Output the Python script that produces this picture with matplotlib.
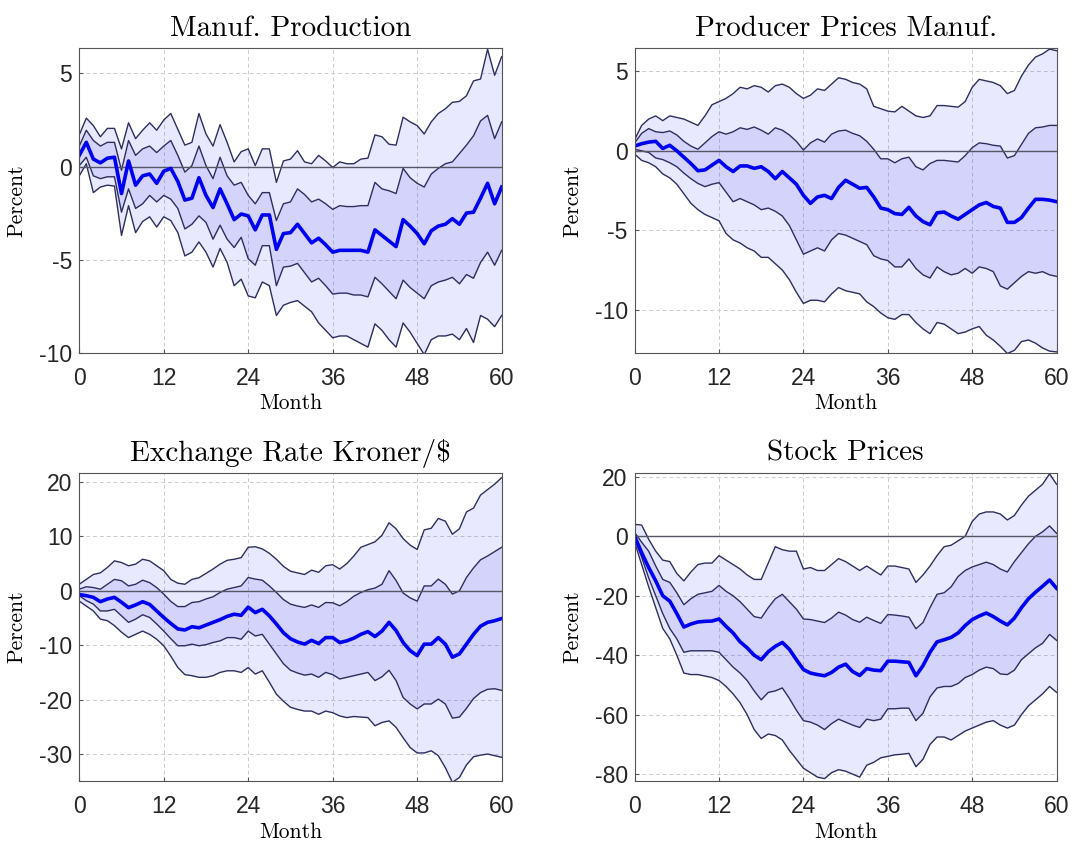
import matplotlib
matplotlib.use('Agg')
import matplotlib.pyplot as plt

plt.rcParams['font.family'] = ['Liberation Sans', 'DejaVu Sans']
plt.rcParams['axes.unicode_minus'] = False

months = list(range(61))

# Manuf. Production: median and 68% / 90% bands (percent)
prod_med = [0.6, 1.3, 0.4, 0.2, 0.45, 0.5, -1.45, 0.3, -1.0, -0.5, -0.4,
            -0.9, -0.25, -0.1, -0.8, -1.8, -1.7, -0.6, -1.55, -2.2, -1.2,
            -2.0, -2.85, -2.55, -2.65, -3.4, -2.6, -2.6, -4.45, -3.6, -3.55,
            -3.1, -3.6, -4.1, -3.85, -4.2, -4.6, -4.5, -4.5, -4.5, -4.5,
            -4.6, -3.4, -3.7, -4.0, -4.3, -2.85, -3.2, -3.6, -4.15, -3.45,
            -3.2, -3.1, -2.8, -3.1, -2.5, -2.45, -1.7, -0.9, -2.0, -1.1]
prod_hi90 = [1.7, 2.6, 2.2, 1.6, 2.05, 2.05, 0.95, 2.35, 1.5, 1.95, 2.35,
             1.95, 2.5, 2.85, 2.0, 1.15, 1.3, 2.85, 1.75, 1.1, 2.25,
             1.3, 0.25, 0.8, 0.95, 0.05, 0.95, 0.95, -0.85, 0.3, 0.4,
             0.85, 0.25, 0.15, 0.6, 0.3, -0.05, 0.25, 0.15, 0.15, 0.4,
             0.45, 1.7, 1.6, 1.2, 1.15, 2.65, 2.4, 2.2, 1.75, 2.4,
             2.85, 3.1, 3.45, 3.5, 3.8, 4.6, 4.7, 6.3, 4.9, 5.9]
prod_hi68 = [1.1, 1.95, 1.4, 1.1, 1.3, 1.3, -0.2, 1.4, 0.6, 0.95, 1.1,
             0.75, 1.1, 1.4, 0.6, -0.3, 0.05, 1.1, 0.05, -0.65, 0.5,
             -0.5, -1.0, -0.85, -1.55, -2.0, -1.4, -1.4, -2.9, -2.0, -1.9,
             -1.2, -1.5, -1.9, -1.75, -2.0, -2.3, -2.1, -2.15, -2.15, -2.1,
             -2.1, -0.85, -1.2, -1.3, -1.45, -0.1, -0.6, -0.9, -1.1, -0.4,
             -0.1, 0.15, 0.25, 0.7, 1.15, 1.65, 2.45, 2.75, 1.5, 2.4]
prod_lo68 = [0.05, 0.5, -0.5, -0.65, -0.55, -0.55, -2.45, -1.2, -2.25, -2.0, -1.55,
             -1.9, -1.55, -1.75, -2.25, -3.35, -3.1, -2.65, -3.0, -3.9, -3.15,
             -3.9, -4.35, -3.8, -4.95, -5.3, -4.25, -4.25, -6.4, -5.4, -5.35,
             -5.2, -5.7, -6.2, -6.0, -6.4, -6.85, -6.8, -6.8, -6.9, -6.9,
             -7.0, -5.95, -6.3, -6.7, -7.1, -6.1, -6.5, -6.8, -7.1, -6.4,
             -6.2, -6.1, -5.95, -6.3, -5.8, -6.0, -5.15, -4.6, -5.3, -4.5]
prod_lo90 = [-0.5, 0.15, -1.4, -1.1, -1.0, -1.05, -3.7, -2.1, -3.55, -2.95, -2.7,
             -3.25, -2.7, -2.9, -3.55, -4.8, -4.6, -4.05, -4.6, -5.4, -4.4,
             -5.15, -6.4, -6.05, -6.95, -7.05, -6.2, -6.4, -8.0, -7.45, -7.3,
             -7.2, -7.5, -7.8, -8.4, -8.8, -9.2, -9.1, -9.1, -9.3, -9.5,
             -9.7, -8.45, -8.8, -9.3, -9.7, -8.4, -8.9, -9.5, -10.1, -9.3,
             -9.1, -9.1, -9.0, -9.3, -8.7, -9.45, -8.0, -8.2, -8.6, -8.0]

# Producer Prices Manuf.
ppi_med = [0.3, 0.45, 0.55, 0.6, 0.15, 0.35, 0.0, -0.4, -0.8, -1.25, -1.2,
           -0.9, -0.6, -1.0, -1.3, -0.95, -0.95, -1.1, -1.0, -1.3, -1.75,
           -1.3, -1.7, -2.1, -2.8, -3.3, -2.9, -2.8, -3.0, -2.3, -1.85,
           -2.1, -2.35, -2.3, -2.9, -3.6, -3.7, -3.95, -4.0, -3.55, -4.1,
           -4.45, -4.65, -3.9, -3.85, -4.1, -4.3, -4.0, -3.7, -3.4, -3.25,
           -3.5, -3.6, -4.5, -4.5, -4.2, -3.6, -3.05, -3.05, -3.1, -3.2]
ppi_hi90 = [0.7, 1.6, 2.0, 2.2, 1.9, 2.2, 2.1, 2.0, 1.8, 1.6, 2.2,
            2.9, 3.1, 3.3, 3.6, 4.0, 3.9, 4.1, 4.0, 3.7, 4.1,
            4.2, 4.0, 3.6, 3.3, 3.5, 3.9, 3.8, 4.2, 4.6, 4.5,
            4.3, 4.2, 3.9, 2.8, 2.65, 2.5, 2.45, 2.8, 2.5, 2.2,
            2.1, 2.2, 2.85, 2.85, 2.8, 2.75, 3.1, 4.0, 4.5, 4.4,
            4.3, 4.1, 3.6, 3.8, 4.7, 5.4, 5.9, 6.1, 6.4, 6.3]
ppi_hi68 = [0.5, 1.1, 1.4, 1.2, 1.15, 1.25, 1.0, 0.6, 0.3, 0.1, 0.5,
            0.9, 1.2, 1.05, 1.2, 1.45, 1.35, 1.5, 1.3, 1.05, 1.45,
            1.3, 1.0, 0.6, 0.05, 0.5, 0.75, 0.55, 1.05, 1.25, 1.3,
            1.1, 0.95, 0.6, 0.1, -0.5, -0.5, -0.75, -0.5, -0.4, -1.0,
            -1.2, -0.8, -0.6, -0.6, -0.65, -0.7, -0.3, 0.2, 0.5, 0.45,
            0.35, 0.3, -0.45, -0.3, 0.4, 1.1, 1.45, 1.5, 1.6, 1.6]
ppi_lo68 = [0.1, 0.0, -0.1, -0.45, -0.55, -0.75, -1.0, -1.4, -1.75, -2.05, -2.25,
            -2.1, -2.0, -2.6, -3.2, -3.0, -3.2, -3.4, -3.7, -3.6, -3.8,
            -4.1, -4.7, -5.6, -6.5, -6.3, -6.1, -6.3, -5.6, -5.2, -5.3,
            -5.5, -5.7, -5.9, -6.6, -6.8, -6.9, -7.3, -7.3, -6.8, -7.4,
            -7.8, -8.0, -7.3, -7.6, -7.8, -7.7, -7.4, -7.7, -7.3, -7.4,
            -7.6, -8.5, -8.7, -8.3, -7.9, -7.6, -7.7, -7.6, -7.8, -7.9]
ppi_lo90 = [-0.2, -0.6, -0.75, -1.0, -1.45, -1.7, -2.1, -2.7, -3.3, -3.7, -4.0,
            -4.2, -4.4, -5.2, -5.6, -5.8, -6.1, -6.3, -6.7, -6.7, -7.1,
            -7.5, -8.1, -8.9, -9.6, -9.4, -9.4, -9.5, -9.0, -8.6, -8.8,
            -8.9, -9.0, -9.5, -9.8, -10.2, -10.5, -10.6, -10.3, -10.3, -10.8,
            -11.2, -11.5, -10.8, -10.9, -11.2, -11.5, -11.4, -11.2, -11.05, -11.6,
            -11.9, -12.3, -12.75, -12.55, -12.0, -11.9, -12.1, -12.4, -12.6, -12.65]

# Exchange Rate Kroner/$
fx_med = [-0.7, -0.9, -1.2, -2.0, -1.5, -1.2, -2.1, -3.1, -2.6, -2.0, -2.5,
          -3.7, -4.9, -6.0, -7.0, -7.2, -6.6, -6.8, -6.3, -5.8, -5.3,
          -4.7, -4.3, -4.5, -3.0, -4.0, -3.4, -4.6, -6.1, -7.7, -8.8,
          -9.4, -9.8, -9.1, -9.7, -8.6, -8.6, -9.5, -9.2, -8.7, -8.0,
          -7.5, -8.4, -7.4, -5.8, -7.3, -9.5, -11.0, -11.9, -9.8, -9.8,
          -8.6, -9.8, -12.2, -11.6, -9.8, -8.0, -6.5, -5.8, -5.5, -5.1]
fx_hi90 = [1.2, 2.1, 3.0, 3.3, 4.3, 5.5, 5.2, 4.6, 4.9, 5.8, 5.5,
           4.6, 3.7, 2.1, 1.4, 1.2, 2.1, 2.4, 3.2, 4.0, 4.9,
           5.6, 5.8, 6.1, 8.0, 8.1, 7.7, 6.9, 5.8, 4.5, 3.6,
           3.3, 3.0, 3.8, 3.4, 4.6, 4.8, 4.0, 5.0, 6.4, 8.0,
           8.5, 9.0, 10.2, 12.5, 11.4, 9.6, 8.4, 7.6, 11.2, 11.5,
           13.3, 12.8, 10.4, 11.4, 14.5, 15.2, 17.6, 18.6, 19.6, 20.8]
fx_hi68 = [0.3, 0.75, 0.6, 0.3, 1.2, 2.1, 1.85, 0.9, 1.2, 1.95, 1.5,
           0.6, -0.6, -1.95, -2.9, -2.9, -2.15, -2.0, -1.5, -1.1, -0.3,
           0.3, 0.6, 0.9, 2.45, 2.15, 1.95, 0.9, -0.3, -1.6, -2.45,
           -2.8, -3.05, -2.6, -3.05, -2.15, -2.2, -2.75, -2.0, -1.0, -0.3,
           0.2, 0.5, 1.2, 3.7, 1.9, -0.4, -1.3, -1.9, 0.9, 0.9,
           2.15, 1.2, -0.6, 0.0, 2.45, 4.2, 5.7, 6.4, 7.2, 8.0]
fx_lo68 = [-0.9, -1.8, -2.45, -3.7, -3.7, -3.4, -4.6, -5.8, -5.2, -4.4, -4.9,
           -6.1, -7.4, -8.8, -10.1, -10.1, -9.8, -10.1, -9.9, -9.5, -9.2,
           -8.6, -8.6, -8.9, -7.4, -8.3, -8.0, -9.8, -11.6, -13.4, -14.6,
           -15.1, -15.5, -15.3, -15.9, -15.0, -15.4, -16.2, -15.9, -15.6, -15.3,
           -15.0, -16.5, -15.8, -14.6, -16.5, -19.6, -20.8, -21.7, -20.8, -20.8,
           -19.9, -20.8, -23.4, -23.2, -21.6, -19.8, -18.7, -18.1, -18.0, -18.3]
fx_lo90 = [-1.9, -2.8, -3.7, -5.2, -5.5, -6.4, -7.6, -8.6, -8.0, -7.4, -8.0,
           -8.9, -10.1, -12.0, -14.1, -15.4, -15.6, -15.9, -15.9, -15.6, -15.0,
           -14.7, -14.7, -15.0, -14.1, -15.3, -14.7, -16.8, -19.0, -20.3, -21.4,
           -21.8, -22.1, -22.1, -22.7, -22.1, -22.4, -23.0, -23.3, -23.1, -23.2,
           -23.3, -24.8, -24.2, -23.9, -25.1, -27.0, -28.8, -29.8, -29.8, -29.4,
           -30.3, -32.5, -35.2, -34.3, -32.0, -30.5, -30.2, -30.0, -30.3, -30.6]

# Stock Prices
stk_med = [0.0, -5.5, -10.5, -15.0, -20.0, -21.8, -26.0, -30.5, -29.5, -28.8, -28.6,
           -28.5, -27.8, -30.3, -32.5, -35.5, -37.5, -40.0, -41.5, -38.8, -37.0,
           -35.7, -38.0, -41.5, -44.8, -46.0, -46.5, -46.9, -45.8, -44.0, -43.0,
           -45.5, -46.8, -44.5, -45.0, -45.2, -42.0, -42.0, -42.2, -42.4, -46.9,
           -43.5, -39.0, -35.5, -34.8, -34.0, -32.5, -30.0, -28.0, -26.8, -25.8,
           -27.0, -28.5, -29.8, -27.5, -24.0, -21.0, -18.8, -16.8, -14.7, -17.5]
stk_hi90 = [4.0, 3.8, -1.0, -5.0, -8.0, -8.5, -12.5, -15.0, -12.0, -9.5, -9.0,
            -9.0, -6.5, -8.0, -9.5, -11.0, -13.0, -14.5, -14.5, -9.0, -3.5,
            -4.5, -5.0, -5.0, -11.0, -10.5, -11.5, -11.5, -9.5, -7.5, -8.5,
            -10.0, -11.5, -10.0, -11.5, -13.0, -10.0, -10.0, -10.5, -11.0, -15.5,
            -13.0, -10.0, -6.5, -3.5, -3.0, -1.5, 0.0, 5.0, 7.5, 8.2,
            8.2, 7.5, 5.5, 7.0, 10.5, 13.5, 15.5, 17.5, 21.0, 17.5]
stk_hi68 = [1.3, -2.0, -5.0, -10.0, -14.5, -15.5, -19.0, -23.0, -21.0, -19.5, -19.0,
            -18.5, -16.5, -18.5, -20.0, -22.0, -24.5, -27.0, -27.5, -24.0, -21.0,
            -19.5, -22.0, -24.5, -27.8, -28.0, -28.5, -29.0, -27.5, -25.5, -26.5,
            -28.0, -28.9, -27.2, -28.3, -29.3, -26.3, -26.5, -26.8, -27.2, -31.1,
            -29.0, -24.0, -19.5, -19.0, -17.0, -13.5, -11.5, -10.3, -9.5, -8.7,
            -9.5, -11.0, -12.0, -8.5, -5.5, -2.5, 0.0, 1.5, 3.5, 1.0]
stk_lo68 = [-1.0, -7.0, -14.0, -20.0, -26.0, -31.0, -34.5, -39.0, -38.5, -38.5, -38.5,
            -38.5, -39.0, -41.5, -44.0, -46.0, -48.5, -52.0, -55.0, -52.5, -52.0,
            -51.0, -54.5, -58.5, -62.0, -62.5, -63.5, -65.0, -63.0, -61.5, -62.5,
            -63.5, -64.3, -61.5, -62.0, -61.5, -58.0, -58.0, -57.8, -57.8, -62.0,
            -59.5, -54.0, -51.0, -50.5, -50.5, -49.5, -47.5, -46.5, -45.0, -44.0,
            -44.5, -46.3, -46.5, -45.0, -41.5, -39.5, -37.5, -36.0, -33.0, -35.0]
stk_lo90 = [-2.0, -9.5, -17.0, -24.0, -31.0, -34.5, -40.0, -46.0, -46.5, -46.5, -47.0,
            -47.5, -48.5, -50.5, -53.0, -56.0, -60.0, -65.0, -68.0, -66.5, -67.0,
            -68.5, -72.0, -75.0, -78.0, -79.5, -81.0, -81.5, -79.5, -78.5, -79.0,
            -80.0, -81.0, -77.0, -76.0, -74.5, -74.0, -73.5, -73.3, -73.0, -77.5,
            -75.0, -70.0, -67.5, -67.5, -68.5, -67.0, -65.5, -64.5, -63.5, -62.5,
            -62.0, -63.5, -64.5, -63.5, -60.0, -57.0, -55.0, -53.0, -50.5, -52.5]

xticks = [0, 12, 24, 36, 48, 60]
serif = ['cmr10', 'DejaVu Serif']


def draw_panel(ax, title, lo90, lo68, med, hi68, hi90, ylim, yticks):
    '''One impulse response with 68% and 90% bands'''
    ax.fill_between(months, lo90, hi90, color='#2020ff', alpha=0.1, lw=0)
    ax.fill_between(months, lo68, hi68, color='#2020e0', alpha=0.1, lw=0)
    for band in (lo90, lo68, hi68, hi90):
        ax.plot(months, band, color='#2e2e5e', lw=1.0)
    ax.axhline(0, color='#555566', lw=1.0)
    ax.plot(months, med, color='#0000f0', lw=2.6)

    ax.set_xlim(0, 60)
    ax.set_ylim(*ylim)
    ax.set_xticks(xticks)
    ax.set_yticks(yticks)
    ax.set_axisbelow(True)
    ax.grid(True, color='#cccccc', lw=0.7, linestyle=(0, (4, 3)))
    ax.tick_params(direction='in', length=3, color='#555555',
                   labelsize=16.5, labelcolor='#262626')
    ax.tick_params(axis='x', pad=10)
    ax.tick_params(axis='y', pad=5)
    for sp in ax.spines.values():
        sp.set_color('#555555')
        sp.set_linewidth(0.8)

    ax.set_title(title, family=serif, fontsize=21, pad=9)
    ax.set_ylabel('Percent', family=serif, fontsize=15.5)
    ax.set_xlabel('Month', family=serif, fontsize=15.5)
    ax.yaxis.set_label_coords(-0.125, 0.5)
    ax.xaxis.set_label_coords(0.5, -0.135)


fig = plt.figure(figsize=(10.74, 8.42), dpi=100)
ax1 = fig.add_axes([0.0738, 0.5811, 0.3933, 0.3615])
ax2 = fig.add_axes([0.5909, 0.5811, 0.3929, 0.3615])
ax3 = fig.add_axes([0.0738, 0.0728, 0.3933, 0.3651])
ax4 = fig.add_axes([0.5909, 0.0728, 0.3929, 0.3651])

draw_panel(ax1, 'Manuf. Production', prod_lo90, prod_lo68, prod_med, prod_hi68, prod_hi90,
           (-10, 6.35), [-10, -5, 0, 5])
draw_panel(ax2, 'Producer Prices Manuf.', ppi_lo90, ppi_lo68, ppi_med, ppi_hi68, ppi_hi90,
           (-12.7, 6.45), [-10, -5, 0, 5])
draw_panel(ax3, r'Exchange Rate Kroner/\$', fx_lo90, fx_lo68, fx_med, fx_hi68, fx_hi90,
           (-34.9, 21.6), [-30, -20, -10, 0, 10, 20])
draw_panel(ax4, 'Stock Prices', stk_lo90, stk_lo68, stk_med, stk_hi68, stk_hi90,
           (-82.2, 21.2), [-80, -60, -40, -20, 0, 20])

fig.savefig('out.png', dpi=100, facecolor='white')
